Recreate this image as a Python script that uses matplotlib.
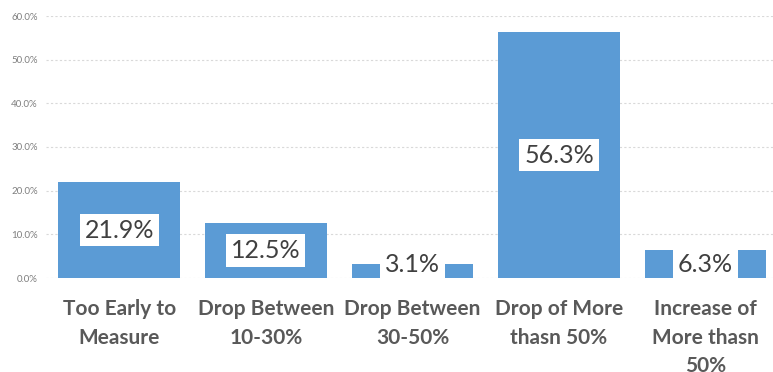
import matplotlib.pyplot as plt
from matplotlib.ticker import PercentFormatter

categories = ["Too Early to\nMeasure", "Drop Between\n10-30%", "Drop Between\n30-50%",
              "Drop of More\nthasn 50%", "Increase of\nMore thasn\n50%"]
values = [21.9, 12.5, 3.1, 56.3, 6.3]
yticks = [0, 10, 20, 30, 40, 50, 60]

plt.rcParams['font.family'] = ['Lato', 'DejaVu Sans']

fig = plt.figure(figsize=(7.73, 3.72), dpi=100)
ax = fig.add_axes([46 / 773, 94 / 372, 727 / 773, 262 / 372])

x = range(len(values))
ax.bar(x, values, width=0.83, color='#5B9BD5', zorder=2)

# value labels sit mid-bar, pushed up so the box stays above the axis
for i, v in enumerate(values):
    y = max(v / 2, 3.0)
    ax.text(i, y, f"{v:.1f}%", ha='center', va='center', fontsize=18, color='#404040',
            bbox=dict(facecolor='white', edgecolor='none', pad=3.5), zorder=3)

ax.set_ylim(0, 60)
ax.set_xlim(-0.5, 4.46)
ax.set_yticks(yticks)
ax.yaxis.set_major_formatter(PercentFormatter(decimals=1))
ax.grid(axis='y', color='#d9d9d9', linestyle=(0, (2, 2)), linewidth=0.8, zorder=0)

ax.set_xticks(list(x))
ax.set_xticklabels(categories, fontsize=15, fontweight='bold', color='#595959', linespacing=1.55)
ax.tick_params(axis='x', length=0, pad=15)
ax.tick_params(axis='y', length=0, labelsize=7, labelcolor='#7f7f7f', pad=6)

for s in ax.spines.values():
    s.set_visible(False)

fig.savefig('out.png', dpi=100)
